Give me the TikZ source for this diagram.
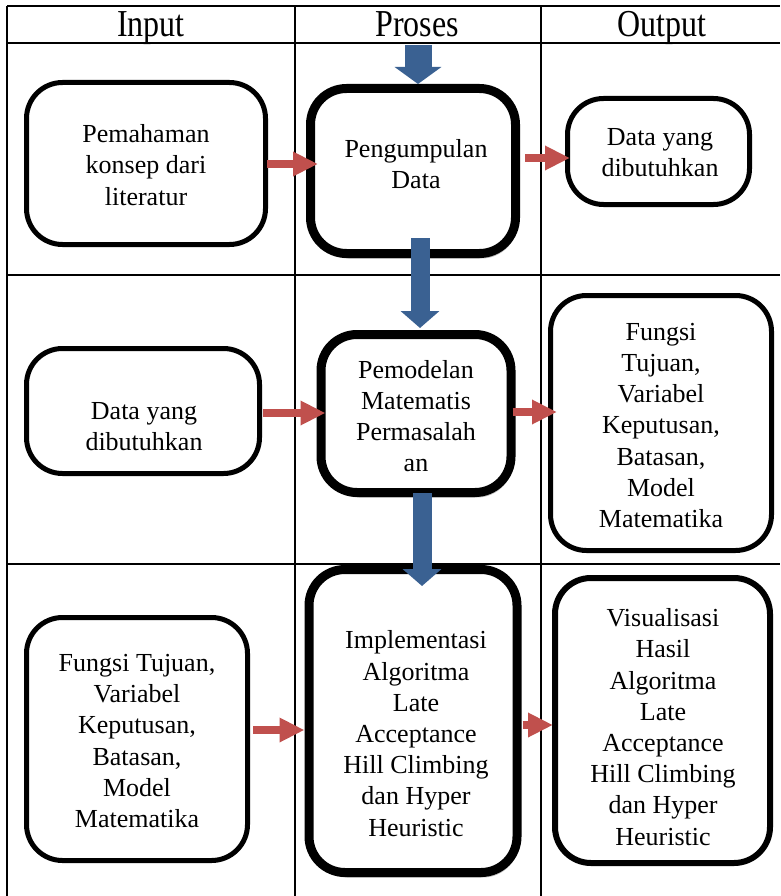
\documentclass[tikz,border=0pt]{standalone}
\usepackage{fontspec}
\setmainfont{Liberation Serif}
\usetikzlibrary{arrows.meta,shadows,calc}
\definecolor{arrblue}{RGB}{58,97,146}
\definecolor{arrred}{RGB}{192,80,77}
\tikzset{
  grid/.style={line width=2.4pt, black},
  box/.style={draw, fill=white, line width=5pt, rounded corners=36pt, inner sep=0pt},
  probox/.style={box, line width=9pt, drop shadow={shadow xshift=2pt, shadow yshift=-5pt, opacity=0.25, fill=black}},
  txt/.style={align=center, font=\fontsize{26}{31.2}\selectfont, inner sep=0pt},
  head/.style={anchor=base, font=\fontsize{32}{36}\selectfont, inner sep=0pt},
  bluebig/.style={draw=arrblue, line width=27pt, -{Triangle[width=46pt,length=17pt]}},
  bluearr/.style={draw=arrblue, line width=19pt, -{Triangle[width=38pt,length=17pt]}},
  redarr/.style={draw=arrred, line width=8.5pt, -{Triangle[width=23pt,length=25pt]}}
}
\begin{document}
\begin{tikzpicture}[x=1pt,y=-1pt]
\useasboundingbox (0,0) rectangle (780,896);
% table grid
\draw[grid] (7,6) -- (780,6);
\draw[grid] (7,43) -- (780,43);
\draw[grid] (7,275) -- (780,275);
\draw[grid] (7,564) -- (780,564);
\draw[grid] (7,6) -- (7,896);
\draw[grid] (295,6) -- (295,896);
\draw[grid] (541,6) -- (541,896);
% headers
\node[head] (hin) at (151,37) {\scalebox{1}[1.19]{Input}};
\node[head] (hpr) at (417,37) {\scalebox{1}[1.19]{Proses}};
\node[head] (hout) at (662,37) {\scalebox{1}[1.19]{Output}};
% row 1
\node[box, minimum width=239pt, minimum height=162pt] (in1) at (146,163.5) {};
\node[probox, minimum width=205pt, minimum height=165pt] (pr1) at (413,171) {};
\node[box, minimum width=182pt, minimum height=106pt] (out1) at (658.5,151.5) {};
\node[txt] (tin1) at (146,165) {Pemahaman\\konsep dari\\literatur};
\node[txt] (tpr1) at (416,164) {Pengumpulan\\Data};
\node[txt] (tout1) at (660,153) {Data yang\\dibutuhkan};
% row 2
\node[box, minimum width=233pt, minimum height=125pt] (in2) at (143,411) {};
\node[probox, minimum width=190pt, minimum height=158pt] (pr2) at (416,413.5) {};
\node[box, minimum width=221pt, minimum height=255pt] (out2) at (661,423) {};
\node[txt] (tin2) at (144,427) {Data yang\\dibutuhkan};
\node[txt] (tpr2) at (416,416) {Pemodelan\\Matematis\\Permasalah\\an};
\node[txt] (tout2) at (661,425.5) {Fungsi\\Tujuan,\\Variabel\\Keputusan,\\Batasan,\\Model\\Matematika};
% row 3
\node[box, minimum width=221pt, minimum height=243pt] (in3) at (137,739) {};
\node[probox, minimum width=208pt, minimum height=303pt] (pr3) at (413,721) {};
\node[box, line width=6pt, minimum width=215pt, minimum height=285pt] (out3) at (662.5,720.5) {};
\node[txt] (tin3) at (137,741) {Fungsi Tujuan,\\Variabel\\Keputusan,\\Batasan,\\Model\\Matematika};
\node[txt] (tpr3) at (416,733.5) {Implementasi\\Algoritma\\Late\\Acceptance\\Hill Climbing\\dan Hyper\\Heuristic};
\node[txt] (tout3) at (663,727) {Visualisasi\\Hasil\\Algoritma\\Late\\Acceptance\\Hill Climbing\\dan Hyper\\Heuristic};
% blue arrows
\coordinate (topin) at (418,45);
\draw[bluebig] (topin) -- (pr1.north -| topin);
\draw[bluearr] ($(pr1.south)+(7,-20)$) -- ($(pr2.north)+(4,-2)$);
\draw[bluearr] ($(pr2.south)+(6,-4)$) -- ($(pr3.north)+(9,21)$);
% red arrows
\draw[redarr] ($(in1.east)+(-1,0.5)$) -- ($(pr1.west)+(12,-7)$);
\draw[redarr] ($(pr1.east)+(5,-13)$) -- ($(out1.west)+(5,6.5)$);
\draw[redarr] ($(in2.east)+(1,2)$) -- ($(pr2.west)+(9,-0.5)$);
\draw[redarr] ($(pr2.east)+(-3,-1.5)$) -- ($(out2.west)+(9,-11)$);
\draw[redarr] ($(in3.east)+(3,-9)$) -- ($(pr3.west)+(0,9)$);
\draw[redarr] ($(pr3.east)+(1,4)$) -- ($(out3.west)+(1,4.5)$);
\end{tikzpicture}
\end{document}
